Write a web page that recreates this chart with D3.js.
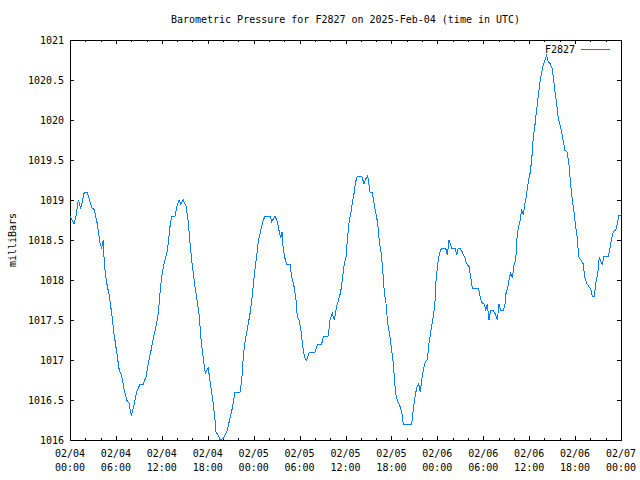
<!DOCTYPE html>
<html>
<head>
<meta charset="utf-8">
<script src="https://cdn.jsdelivr.net/npm/d3@7"></script>
<style>
  html, body { margin: 0; padding: 0; background: #fff; }
  svg { display: block; }
  text { font-family: "DejaVu Sans Mono", "Liberation Mono", monospace; font-size: 10px; fill: #000; }
</style>
</head>
<body>
<svg id="chart" width="640" height="480"></svg>
<script>
// ---- data (hours after 2025-02-04 00:00 UTC, pressure in millibars) ----
const hours = [
  0.00, 0.52, 0.78, 1.08, 1.40, 1.66, 1.87, 2.26, 2.84, 3.18, 3.57, 3.92, 4.14, 4.35, 4.48, 4.80,
  5.14, 5.45, 5.75, 6.10, 6.44, 6.76, 7.10, 7.41, 7.71, 8.01, 8.36, 8.72, 9.15, 9.58, 9.93, 10.23,
  10.55, 10.89, 11.24, 11.54, 11.76, 11.98, 12.28, 12.64, 12.85, 13.07, 13.29, 13.72, 14.02, 14.24,
  14.47, 14.81, 15.16, 15.46, 15.68, 15.90, 16.11, 16.33, 16.63, 16.90, 17.16, 17.42, 17.68, 17.86,
  18.07, 18.39, 18.65, 18.91, 19.08, 19.38, 19.60, 20.03, 20.48, 20.91, 21.26, 21.56, 22.21, 22.44,
  22.65, 22.87, 23.17, 23.52, 23.82, 24.08, 24.40, 24.61, 24.83, 25.05, 25.26, 25.52, 26.13, 26.36,
  26.79, 27.09, 27.35, 27.53, 27.70, 27.87, 28.09, 28.32, 28.75, 28.97, 29.27, 29.53, 29.70, 29.92,
  30.15, 30.32, 30.49, 30.71, 30.93, 31.23, 31.58, 32.01, 32.32, 32.89, 33.10, 33.75, 33.97, 34.28,
  34.54, 34.85, 35.15, 35.37, 35.58, 35.84, 36.07, 36.24, 36.50, 36.72, 36.89, 37.11, 37.33, 37.54,
  38.12, 38.42, 38.68, 38.90, 39.20, 39.50, 39.72, 39.95, 40.21, 40.42, 40.64, 40.86, 41.07, 41.29,
  41.51, 41.81, 42.03, 42.25, 42.43, 42.60, 42.82, 43.12, 43.38, 43.55, 44.65, 44.86, 45.08, 45.30,
  45.57, 45.77, 45.96, 46.17, 46.43, 46.69, 46.91, 47.14, 47.40, 47.66, 47.83, 48.05, 48.26, 48.57,
  49.09, 49.30, 49.53, 49.75, 49.88, 50.31, 50.53, 50.74, 50.96, 51.26, 51.62, 51.84, 52.14, 52.36,
  52.57, 53.35, 53.58, 53.80, 54.10, 54.32, 54.53, 54.75, 54.97, 55.31, 55.54, 55.84, 56.06, 56.28,
  56.62, 56.84, 56.97, 57.19, 57.40, 57.59, 57.80, 58.02, 58.24, 58.41, 58.58, 58.80, 59.02, 59.23,
  59.46, 59.68, 59.89, 60.11, 60.33, 60.54, 60.76, 60.89, 61.06, 61.25, 61.42, 61.64, 61.85, 62.07,
  62.29, 62.50, 62.72, 62.98, 63.21, 63.38, 63.60, 63.81, 64.03, 64.25, 64.46, 64.68, 64.98, 65.20,
  65.42, 65.64, 65.86, 66.08, 66.29, 66.47, 66.77, 67.07, 67.25, 67.52, 67.78, 68.04, 68.25, 68.51,
  68.70, 68.96, 69.17, 69.39, 69.56, 69.78, 70.34, 70.56, 70.78, 71.00, 71.31, 71.52, 71.74, 72.00
];
const pressure = [
  1018.8, 1018.7, 1018.8, 1019.0, 1018.9, 1019.0, 1019.1, 1019.1, 1018.9, 1018.88, 1018.7, 1018.46, 1018.4, 1018.5, 1018.2, 1017.96,
  1017.8, 1017.58, 1017.33, 1017.1, 1016.87, 1016.8, 1016.62, 1016.5, 1016.46, 1016.3, 1016.44, 1016.6, 1016.7, 1016.7, 1016.79, 1016.96,
  1017.1, 1017.27, 1017.42, 1017.58, 1017.83, 1018.04, 1018.2, 1018.33, 1018.46, 1018.67, 1018.8, 1018.8, 1018.94, 1019.0,
  1018.95, 1019.0, 1018.92, 1018.73, 1018.46, 1018.25, 1018.09, 1017.92, 1017.73, 1017.54, 1017.21, 1017.02, 1016.83, 1016.87,
  1016.9, 1016.67, 1016.5, 1016.29, 1016.1, 1016.06, 1016.0, 1016.02, 1016.1, 1016.27, 1016.42, 1016.6, 1016.6, 1016.75,
  1017.05, 1017.23, 1017.38, 1017.58, 1017.8, 1018.06, 1018.31, 1018.48, 1018.58, 1018.67, 1018.75, 1018.8, 1018.8, 1018.73,
  1018.8, 1018.73, 1018.6, 1018.52, 1018.6, 1018.38, 1018.27, 1018.2, 1018.2, 1018.04, 1017.92, 1017.75, 1017.54, 1017.5,
  1017.4, 1017.25, 1017.12, 1017.02, 1017.0, 1017.09, 1017.1, 1017.1, 1017.19, 1017.2, 1017.29, 1017.3, 1017.5, 1017.58,
  1017.5, 1017.67, 1017.77, 1017.85, 1018.0, 1018.2, 1018.29, 1018.5, 1018.75, 1018.85, 1018.96, 1019.08, 1019.23, 1019.3,
  1019.3, 1019.2, 1019.27, 1019.3, 1019.1, 1019.1, 1018.96, 1018.84, 1018.71, 1018.48, 1018.35, 1018.13, 1017.85, 1017.71,
  1017.46, 1017.29, 1017.12, 1016.96, 1016.71, 1016.56, 1016.48, 1016.42, 1016.33, 1016.2, 1016.2, 1016.38, 1016.54, 1016.65,
  1016.7, 1016.6, 1016.75, 1016.87, 1016.98, 1017.0, 1017.21, 1017.35, 1017.5, 1017.67, 1018.0, 1018.2, 1018.33, 1018.4,
  1018.4, 1018.31, 1018.5, 1018.44, 1018.4, 1018.4, 1018.31, 1018.4, 1018.4, 1018.35, 1018.27, 1018.2, 1018.17, 1018.04,
  1017.9, 1017.9, 1017.8, 1017.72, 1017.7, 1017.63, 1017.7, 1017.5, 1017.62, 1017.62, 1017.58, 1017.5, 1017.7, 1017.62,
  1017.62, 1017.7, 1017.83, 1017.9, 1018.02, 1018.09, 1018.02, 1018.19, 1018.25, 1018.52, 1018.65, 1018.73, 1018.88, 1018.81,
  1018.96, 1019.08, 1019.23, 1019.33, 1019.5, 1019.79, 1019.94, 1020.06, 1020.19, 1020.35, 1020.48, 1020.6, 1020.69, 1020.75,
  1020.81, 1020.72, 1020.71, 1020.65, 1020.5, 1020.35, 1020.19, 1020.02, 1019.94, 1019.85, 1019.73, 1019.62, 1019.6, 1019.44,
  1019.19, 1019.0, 1018.85, 1018.67, 1018.52, 1018.29, 1018.25, 1018.2, 1018.04, 1017.96, 1017.92, 1017.89, 1017.8, 1017.8,
  1017.96, 1018.08, 1018.29, 1018.22, 1018.2, 1018.3, 1018.3, 1018.4, 1018.52, 1018.61, 1018.62, 1018.7, 1018.81, 1018.8
];
const yTickValues = [1016, 1016.5, 1017, 1017.5, 1018, 1018.5, 1019, 1019.5, 1020, 1020.5, 1021];
const yTickLabels = ["1016", "1016.5", "1017", "1017.5", "1018", "1018.5", "1019", "1019.5", "1020", "1020.5", "1021"];
const xTickDates = ["02/04", "02/04", "02/04", "02/04", "02/05", "02/05", "02/05", "02/05", "02/06", "02/06", "02/06", "02/06", "02/07"];
const xTickTimes = ["00:00", "06:00", "12:00", "18:00", "00:00", "06:00", "12:00", "18:00", "00:00", "06:00", "12:00", "18:00", "00:00"];
const seriesName = "F2827";
const titleText = "Barometric Pressure for F2827 on 2025-Feb-04 (time in UTC)";
const yLabelText = "milliBars";

// ---- layout ----
const L = 70, R = 621, T = 40, B = 440;
const start = new Date(Date.UTC(2025, 1, 4, 0, 0));
const end = new Date(Date.UTC(2025, 1, 7, 0, 0));
const data = hours.map((h, i) => ({ t: new Date(start.getTime() + h * 3600e3), v: pressure[i] }));

const svg = d3.select("#chart");
svg.append("rect").attr("width", 640).attr("height", 480).attr("fill", "#fff");

const x = d3.scaleUtc().domain([start, end]).range([L, R]);
const y = d3.scaleLinear().domain([1016, 1021]).range([B, T]);

const majorX = d3.utcHour.every(6).range(start, new Date(end.getTime() + 1));
const minorX = d3.utcHour.every(2).range(start, new Date(end.getTime() + 1));

function styleAxis(g) {
  g.select(".domain").remove();
  g.selectAll("line").attr("stroke", "#000").attr("shape-rendering", "crispEdges");
}

// minor + major ticks bottom & top (pointing inward)
svg.append("g").attr("transform", `translate(0,${B})`)
  .call(d3.axisBottom(x).tickValues(minorX).tickSize(-2).tickFormat("")).call(styleAxis);
svg.append("g").attr("transform", `translate(0,${B})`)
  .call(d3.axisBottom(x).tickValues(majorX).tickSize(-4).tickFormat("")).call(styleAxis);
svg.append("g").attr("transform", `translate(0,${T})`)
  .call(d3.axisTop(x).tickValues(minorX).tickSize(-2).tickFormat("")).call(styleAxis);
svg.append("g").attr("transform", `translate(0,${T})`)
  .call(d3.axisTop(x).tickValues(majorX).tickSize(-4).tickFormat("")).call(styleAxis);

// y ticks left (with labels) and right (mirror)
svg.append("g").attr("transform", `translate(${L},0)`)
  .call(d3.axisLeft(y).tickValues(yTickValues).tickSize(-4).tickPadding(6)
    .tickFormat((d, i) => yTickLabels[i]))
  .call(styleAxis)
  .call(g => g.selectAll("text").attr("fill", "#000").style("font-size", "10px")
    .style("font-family", '"DejaVu Sans Mono", monospace'));
svg.append("g").attr("transform", `translate(${R},0)`)
  .call(d3.axisRight(y).tickValues(yTickValues).tickSize(-4).tickFormat("")).call(styleAxis);

// x tick labels (two lines)
const xl = svg.append("g");
majorX.forEach((d, i) => {
  const t = xl.append("text").attr("x", x(d)).attr("text-anchor", "middle");
  t.append("tspan").attr("x", x(d)).attr("y", 457).text(xTickDates[i]);
  t.append("tspan").attr("x", x(d)).attr("y", 471).text(xTickTimes[i]);
});

// frame
svg.append("rect").attr("x", L).attr("y", T).attr("width", R - L).attr("height", B - T)
  .attr("fill", "none").attr("stroke", "#000").attr("shape-rendering", "crispEdges");

// line
const line = d3.line().x(d => x(d.t)).y(d => y(d.v));
svg.append("path").datum(data).attr("d", line)
  .attr("fill", "none").attr("stroke", "#0080ff").attr("stroke-width", 1)
  .attr("shape-rendering", "crispEdges");

// title
svg.append("text").attr("x", (L + R) / 2).attr("y", 23).attr("text-anchor", "middle").text(titleText);

// y label
svg.append("text").attr("transform", "translate(15.5,240) rotate(-90)")
  .attr("text-anchor", "middle").text(yLabelText);

// legend
svg.append("text").attr("x", 575).attr("y", 53).attr("text-anchor", "end").text(seriesName);
svg.append("line").attr("x1", 581).attr("x2", 610).attr("y1", 49.5).attr("y2", 49.5)
  .attr("stroke", "#0080ff").attr("stroke-width", 1).attr("shape-rendering", "crispEdges");
</script>
</body>
</html>
